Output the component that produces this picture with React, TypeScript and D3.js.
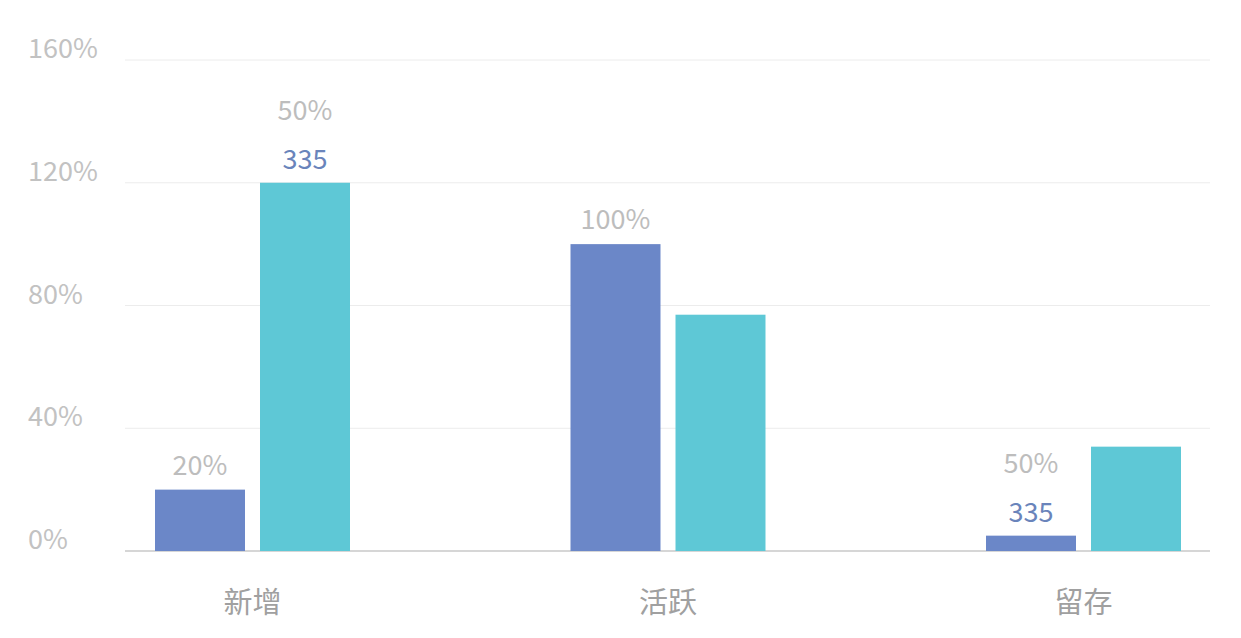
import { scaleBand, scaleLinear } from "d3";
import { useEffect } from "react";

const categories = ["新增", "活跃", "留存"];
const seriesA = [20, 100, 5];
const seriesB = [120, 77, 34];
const yTicks = [0, 40, 80, 120, 160];
// labels shown above the bars: [gray line, blue line]
const labelsA: [string, string][] = [["20%", ""], ["100%", ""], ["50%", "335"]];
const labelsB: [string, string][] = [["50%", "335"], ["", ""], ["", ""]];

const W = 1241;
const H = 638;
const FONT = "'Noto Sans CJK SC', 'Noto Sans', sans-serif";

export default function App() {
  useEffect(() => {
    document.body.style.margin = "0";
  }, []);

  const y = scaleLinear().domain([0, 160]).range([551, 60]);
  const x0 = scaleBand<string>().domain(categories).range([155, 1181]).paddingInner(0.5307).paddingOuter(0);
  const x1 = scaleBand<string>().domain(["a", "b"]).range([0, x0.bandwidth()]).paddingInner(0.1429);
  const series = [
    { key: "a", values: seriesA, color: "#6b87c8", labels: labelsA },
    { key: "b", values: seriesB, color: "#5ec8d6", labels: labelsB },
  ];

  return (
    <svg width={W} height={H} style={{ display: "block", fontFamily: FONT }}>
      {yTicks.map((t) => (
        <g key={t}>
          <line x1={125} x2={1210} y1={y(t)} y2={y(t)} stroke={t === 0 ? "#c8c8c8" : "#ececec"} strokeWidth={t === 0 ? 1.5 : 1} />
          <text x={28} y={y(t) - 2} fontSize={27} fill="#c2c2c2">{t}%</text>
        </g>
      ))}
      {categories.map((c, i) => (
        <g key={c}>
          {series.map((s) => {
            const bx = x0(c)! + x1(s.key)!;
            const by = y(s.values[i]);
            const cx = bx + x1.bandwidth() / 2;
            const [gray, blue] = s.labels[i];
            return (
              <g key={s.key}>
                <rect x={bx} y={by} width={x1.bandwidth()} height={y(0) - by} fill={s.color} />
                {blue && (
                  <text x={cx} y={by - 14} textAnchor="middle" fontSize={27} fill="#6a84bb">{blue}</text>
                )}
                {gray && (
                  <text x={cx} y={blue ? by - 63 : by - 15} textAnchor="middle" fontSize={27} fill="#bdbdbd">{gray}</text>
                )}
              </g>
            );
          })}
          <text x={x0(c)! + x0.bandwidth() / 2} y={613} textAnchor="middle" fontSize={29} fill="#a0a0a0">{c}</text>
        </g>
      ))}
    </svg>
  );
}
